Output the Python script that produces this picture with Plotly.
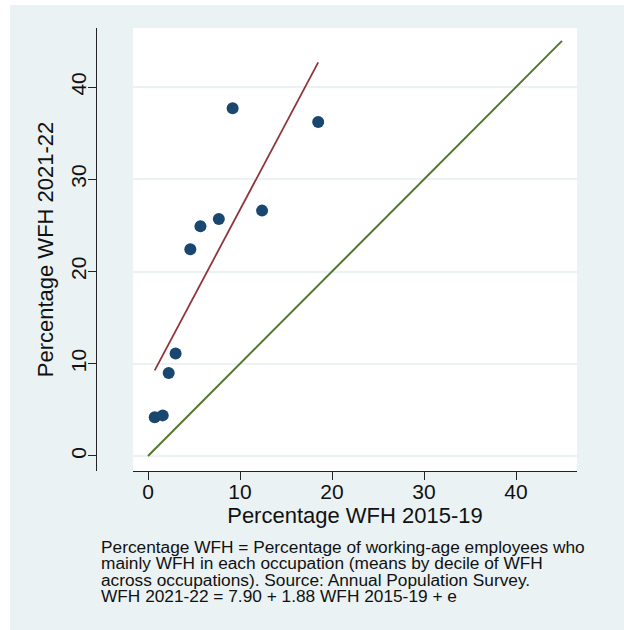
import plotly.graph_objects as go

# ---- data ----
wfh_2015_19 = [0.73, 1.6, 2.25, 3.0, 4.6, 5.7, 7.7, 9.2, 12.4, 18.5]
wfh_2021_22 = [4.2, 4.4, 9.0, 11.1, 22.4, 24.9, 25.7, 37.7, 26.6, 36.2]
fit_intercept = 7.90
fit_slope = 1.88
diag_x = [0, 45]
diag_y = [0, 45]
x_ticks = [0, 10, 20, 30, 40]
y_ticks = [0, 10, 20, 30, 40]
note_lines = [
    "Percentage WFH = Percentage of working-age employees who",
    "mainly WFH in each occupation (means by decile of WFH",
    "across occupations). Source: Annual Population Survey.",
    "WFH 2021-22 = 7.90 + 1.88 WFH 2015-19 + e",
]

W, H = 624, 630
L, R, T, B = 96, 47, 28, 159
plot_w = W - L - R
plot_h = H - T - B
def px_x(p):
    return (p - L) / plot_w
def px_y(p):
    return (H - B - p) / plot_h

BG = "#eaf2f3"
FONT = "Liberation Sans"

fx = [min(wfh_2015_19), max(wfh_2015_19)]
fy = [fit_intercept + fit_slope * v for v in fx]

fig = go.Figure()
fig.add_trace(go.Scatter(x=wfh_2015_19, y=wfh_2021_22, mode="markers",
                         marker=dict(color="#1a476f", size=12, line=dict(width=0)),
                         showlegend=False))
fig.add_trace(go.Scatter(x=fx, y=fy, mode="lines",
                         line=dict(color="#90353b", width=1.8), showlegend=False))
fig.add_trace(go.Scatter(x=diag_x, y=diag_y, mode="lines",
                         line=dict(color="#55752f", width=2), showlegend=False))

annotations = []
baselines = [553, 569, 586, 602]
for txt, bl in zip(note_lines, baselines):
    annotations.append(dict(text=txt, xref="paper", yref="paper",
                            x=px_x(99), y=px_y(bl - 6), xanchor="left", yanchor="middle",
                            showarrow=False, font=dict(family=FONT, size=17.3, color="#111111")))

fig.update_layout(
    width=W, height=H,
    margin=dict(l=L, r=R, t=T, b=B, pad=0),
    paper_bgcolor=BG, plot_bgcolor="white",
    font=dict(family=FONT, color="#111111"),
    xaxis=dict(domain=[(133 - L) / plot_w, 1], range=[-1.63, 46.63],
               tickvals=x_ticks, ticks="outside", ticklen=8, tickcolor="#222222",
               showline=True, linecolor="#222222", linewidth=1,
               showgrid=False, zeroline=False, ticklabelstandoff=-6,
               tickfont=dict(size=21, family=FONT, color="#111111"),
               title=dict(text="Percentage WFH 2015-19", font=dict(size=22, family=FONT, color="#111111"),
                          standoff=1)),
    yaxis=dict(anchor="free", position=0, range=[-1.63, 46.4],
               tickvals=y_ticks, ticks="outside", ticklen=8, tickcolor="#222222",
               tickangle=-90, ticklabelstandoff=-6,
               showline=True, linecolor="#222222", linewidth=1,
               showgrid=True, gridcolor=BG, gridwidth=1.5, zeroline=False,
               tickfont=dict(size=21, family=FONT, color="#111111"),
               title=dict(text="Percentage WFH 2021-22", font=dict(size=22, family=FONT, color="#111111"),
                          standoff=5)),
    annotations=annotations,
    shapes=[
        dict(type="rect", xref="paper", yref="paper", x0=px_x(0), x1=px_x(10), y0=px_y(H), y1=px_y(0),
             fillcolor="white", line=dict(width=0), layer="above"),
        dict(type="rect", xref="paper", yref="paper", x0=px_x(0), x1=px_x(W), y0=px_y(5), y1=px_y(0),
             fillcolor="white", line=dict(width=0), layer="above"),
    ],
)

fig.write_html("out.html")
